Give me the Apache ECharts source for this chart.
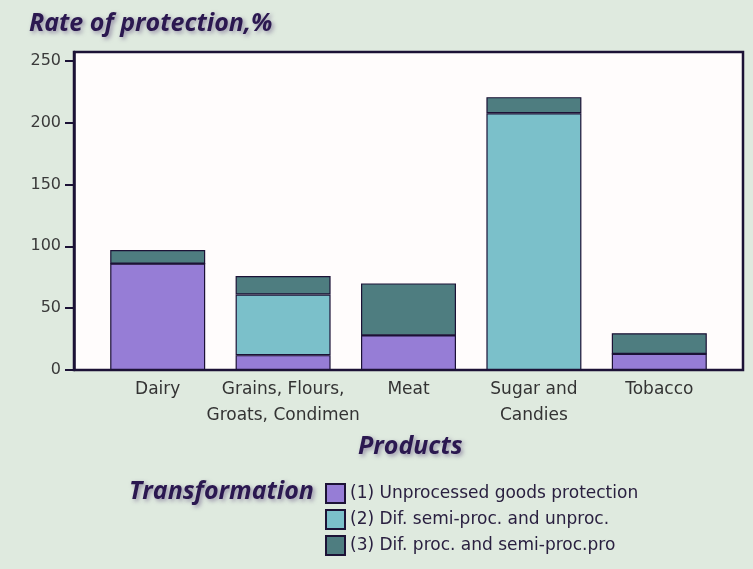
<!DOCTYPE html>
<html>
<head>
<meta charset="utf-8">
<script src="https://cdn.jsdelivr.net/npm/echarts@6/dist/echarts.min.js"></script>
<style>
  html, body { margin: 0; padding: 0; background: #dfeadf; }
  #chart { width: 753px; height: 569px; }
</style>
</head>
<body>
<div id="chart"></div>
<script>
// categories and stacked values (rate of protection, %)
const categories = ['Dairy', 'Grains, Flours,\nGroats, Condimen', 'Meat', 'Sugar and\nCandies', 'Tobacco']
const unprocessed = [86, 12, 28, 0, 13]
const semiVsUnproc = [0, 49, 0, 207.5, 0]
const procVsSemi = [11, 15, 42, 13, 16.7]
const seriesNames = ['(1) Unprocessed goods protection', '(2) Dif. semi-proc. and unproc.', '(3) Dif. proc. and semi-proc.pro']
const yTicks = [0, 50, 100, 150, 200, 250]

const chart = echarts.init(document.getElementById('chart'))

// heading text: bold italic with a soft shadow
const headStyle = {
  fontFamily: 'Open Sans',
  fontWeight: 'bold',
  fontStyle: 'italic',
  fontSize: 25,
  color: '#2b1850',
  textShadowColor: 'rgba(90,70,120,0.55)',
  textShadowBlur: 4,
  textShadowOffsetX: 2,
  textShadowOffsetY: 2
}

const edge = '#1c1236'
const bar = (name, data, color) => ({
  name: name,
  type: 'bar',
  stack: 'total',
  xAxisIndex: 1,
  yAxisIndex: 1,
  barWidth: 95,
  data: data,
  itemStyle: { color: color, borderColor: edge, borderWidth: 1.2 }
})

chart.setOption({
  backgroundColor: '#dfeadf',
  animation: false,
  title: [
    { text: 'Rate of protection,%', left: 29, top: 11, padding: 0, textStyle: headStyle },
    { text: 'Products', left: 358, top: 434, padding: 0, textStyle: headStyle },
    { text: 'Transformation', left: 129, top: 479, padding: 0, textStyle: headStyle }
  ],
  legend: {
    orient: 'vertical',
    left: 325,
    top: 483,
    padding: 0,
    itemWidth: 19,
    itemHeight: 19,
    itemGap: 5,
    icon: 'rect',
    textStyle: { fontFamily: 'DejaVu Sans', fontSize: 17, color: '#2a2040' },
    data: seriesNames
  },
  grid: [
    // frame grid carrying the y scale
    { left: 74, right: 10, top: 52, bottom: 199, show: true, backgroundColor: '#fffcfc', borderColor: edge, borderWidth: 2.5 },
    // bar grid, narrower so the bars sit inside the frame
    { left: 95, right: 31, top: 52, bottom: 199 }
  ],
  xAxis: [
    { type: 'category', gridIndex: 0, data: [''], show: false },
    {
      type: 'category',
      gridIndex: 1,
      data: categories,
      axisLine: { show: false },
      axisTick: { show: false },
      axisLabel: { fontFamily: 'DejaVu Sans', fontSize: 17, color: '#333', lineHeight: 26, margin: 7, interval: 0 }
    }
  ],
  yAxis: [
    {
      type: 'value',
      gridIndex: 0,
      min: 0,
      max: 257,
      interval: 50,
      splitLine: { show: false },
      axisLine: { show: true, lineStyle: { color: edge, width: 2.5 } },
      axisTick: { show: true, length: 9, lineStyle: { color: edge, width: 2 }, customValues: yTicks },
      axisLabel: { fontFamily: 'DejaVu Sans', fontSize: 16, color: '#3a3a3a', margin: 13, customValues: yTicks }
    },
    { type: 'value', gridIndex: 1, min: 0, max: 257, show: false }
  ],
  series: [
    bar(seriesNames[0], unprocessed, '#967dd6'),
    bar(seriesNames[1], semiVsUnproc, '#7bc0ca'),
    bar(seriesNames[2], procVsSemi, '#4e7d80')
  ]
})
</script>
</body>
</html>
